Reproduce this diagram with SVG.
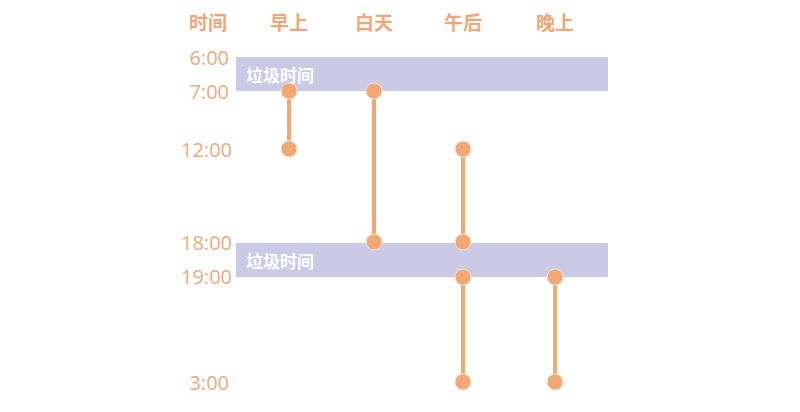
<svg xmlns="http://www.w3.org/2000/svg" width="800" height="412" viewBox="0 0 800 412">
<style>
.hd{font-family:"Noto Sans CJK SC","Noto Sans",sans-serif;font-weight:bold;font-size:19px;fill:#EFA77A;text-anchor:middle}
.tm{font-family:"Open Sans","Noto Sans",sans-serif;font-size:20px;fill:#EBAA80;text-anchor:end}
.band{fill:#CBCAE6}
.bt{font-family:"Noto Sans CJK SC",sans-serif;font-weight:bold;font-size:17px;fill:#FFFFFF}
.ln{stroke:#F1A874;stroke-width:4}
.dot{fill:#F1A874;stroke:#FBE3D0;stroke-width:1}
</style>
<rect width="800" height="412" fill="#FFFFFF"/>
<g id="header">
<text class="hd" x="208" y="30">时间</text>
<text class="hd" x="289" y="30">早上</text>
<text class="hd" x="374" y="30">白天</text>
<text class="hd" x="463" y="30">午后</text>
<text class="hd" x="555" y="30">晚上</text>
</g>
<g id="bands">
<rect class="band" x="236" y="57" width="372" height="34"/>
<text class="bt" x="246" y="82">垃圾时间</text>
<rect class="band" x="236" y="243" width="372" height="34"/>
<text class="bt" x="246" y="268">垃圾时间</text>
</g>
<g id="times">
<text class="tm" x="229" y="65">6:00</text>
<text class="tm" x="229" y="99">7:00</text>
<text class="tm" x="232" y="157">12:00</text>
<text class="tm" x="232" y="250">18:00</text>
<text class="tm" x="232" y="284">19:00</text>
<text class="tm" x="229" y="390">3:00</text>
</g>
<g id="connectors">
<line class="ln" x1="289" y1="91" x2="289" y2="149"/>
<line class="ln" x1="374" y1="91" x2="374" y2="242"/>
<line class="ln" x1="463" y1="149" x2="463" y2="242"/>
<line class="ln" x1="463" y1="277" x2="463" y2="382"/>
<line class="ln" x1="555" y1="277" x2="555" y2="382"/>
</g>
<g id="dots">
<circle class="dot" cx="289" cy="91" r="8"/>
<circle class="dot" cx="289" cy="149" r="8"/>
<circle class="dot" cx="374" cy="91" r="8"/>
<circle class="dot" cx="374" cy="242" r="8"/>
<circle class="dot" cx="463" cy="149" r="8"/>
<circle class="dot" cx="463" cy="242" r="8"/>
<circle class="dot" cx="463" cy="277" r="8"/>
<circle class="dot" cx="463" cy="382" r="8"/>
<circle class="dot" cx="555" cy="277" r="8"/>
<circle class="dot" cx="555" cy="382" r="8"/>
</g>
</svg>
